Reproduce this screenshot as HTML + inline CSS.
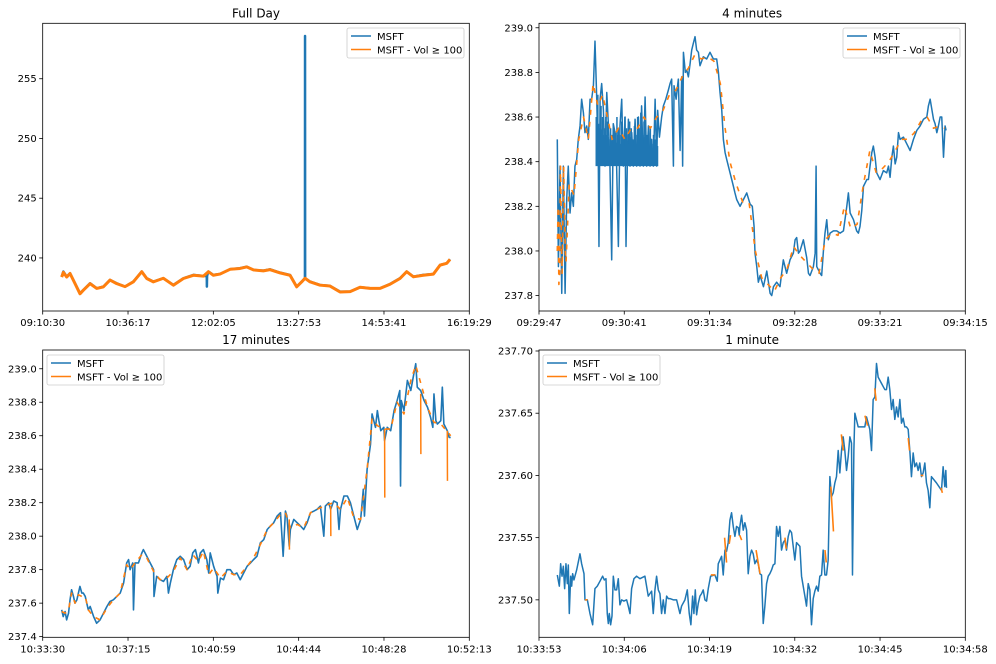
<!DOCTYPE html>
<html><head><meta charset="utf-8"><style>
html,body{margin:0;padding:0;background:#fff;}
svg{display:block;font-family:"DejaVu Sans","Liberation Sans",sans-serif;}
</style></head><body>
<svg id="fig" width="996" height="664" viewBox="0 0 996 664"></svg>
<script>
// ---------- Panel 1: Full Day (minutes since 09:10:30) ----------
const p1T=[19.1,20.8,24.1,27.5,32.5,37.5,40.9,47.6,54.3,61.0,67.7,74.4,82.8,91.2,99.6,104.6,111.3,121.3,131.4,141.5,151.5,161.6,165,165.1,165.3,166.6,171.6,178.3,188.4,198.4,205.1,211.9,221.9,228.6,238.7,248.7,255.4,260.5,263.7,263.8,263.9,268.8,278.9,288.9,299.0,309.1,319.1,329.2,339.2,349.3,359.3,366.0,372.8,382.8,392.9,399.6,406.3,409.6];
const p1Blue=[238.44,238.86,238.44,238.72,237.88,237.04,237.32,237.88,237.46,237.60,238.16,237.88,237.60,238.02,238.86,238.30,238.02,238.30,237.74,238.30,238.58,238.49,238.5,237.6,238.5,238.86,238.58,238.66,239.05,239.14,239.27,239.0,238.94,239.05,238.77,238.58,237.60,238.02,238.3,258.58,238.3,238.02,237.74,237.66,237.18,237.18,237.55,237.46,237.46,237.82,238.30,238.86,238.44,238.58,238.66,239.41,239.55,239.89];
const p1OrangeT=[19.1,20.8,24.1,27.5,32.5,37.5,40.9,47.6,54.3,61.0,67.7,74.4,82.8,91.2,99.6,104.6,111.3,121.3,131.4,141.5,151.5,161.6,166.6,171.6,178.3,188.4,198.4,205.1,211.9,221.9,228.6,238.7,248.7,255.4,260.5,263.8,268.8,278.9,288.9,299.0,309.1,319.1,329.2,339.2,349.3,359.3,366.0,372.8,382.8,392.9,399.6,406.3,409.6];
const p1Orange=[238.40,238.80,238.40,238.70,237.85,237.00,237.30,237.85,237.45,237.58,238.15,237.85,237.60,238.00,238.85,238.28,238.00,238.30,237.72,238.28,238.55,238.48,238.85,238.55,238.65,239.05,239.12,239.25,239.0,238.92,239.02,238.75,238.55,237.58,238.0,238.3,238.0,237.72,237.65,237.15,237.18,237.55,237.45,237.45,237.8,238.28,238.85,238.42,238.55,238.65,239.4,239.55,239.88];
const p1XTicks=["09:10:30","10:36:17","12:02:05","13:27:53","14:53:41","16:19:29"];
const p1YTicks=[240,245,250,255];

// ---------- Panel 2: 4 minutes (seconds since 09:29:47) ----------
const p2T=[11.5,12.2,13.2,14.3,15.3,16.4,17.4,18.4,19.5,20.5,21.6,22.6,23.7,24.7,25.8,26.8,27.9,28.9,30.0,31.0,32.1,33.1,34.2,35.2,36.3,37.3,37.7,38.4,39.4,40.5,41.5,42.6,43.6,44.6,45.7,46.7,47.8,48.8,49.9,50.9,52.0,53.0,54.1,54.7,55.5,56.2,57.2,58.3,59.3,60.4,61.4,62.5,63.5,64.5,65.6,66.7,67.7,68.8,69.8,70.8,71.9,73.0,74.0,74.6,75.7,77.1,78.2,79.7,81.3,82.4,83.4,84.5,84.9,86.2,87.6,88.7,89.7,90.3,90.8,92.0,92.9,93.9,95.0,96.0,97.0,98.1,99.1,100.2,101.2,103.3,105.4,107.5,109.6,111.7,112.8,113.8,114.9,115.9,117.0,118.0,120.1,122.2,123.2,124.3,126.4,128.5,130.6,132.7,134.1,135.2,135.8,136.9,137.9,139.0,141.1,143.2,145.3,146.3,147.4,149.4,151.5,153.6,155.7,157.8,159.9,161.0,162.0,163.1,164.1,166.2,168.3,169.4,170.4,172.5,173.6,174.2,174.6,176.7,177.7,178.8,179.8,180.9,181.9,183.0,185.1,187.2,189.3,191.4,193.5,194.5,195.6,197.7,199.7,200.8,201.8,202.9,204.0,206.1,207.1,208.1,209.2,210.2,211.3,212.3,214.4,216.5,218.6,219.7,220.7,221.8,222.8,223.9,224.9,226.0,227.0,229.1,231.2,233.3,235.4,237.5,239.6,241.7,243.8,244.8,245.9,248.0,249.0,250.1,251.1,252.2,253.2,254.3,255.3,255.9];
const p2Blue=[238.50,237.93,238.38,237.81,238.38,237.81,238.23,238.38,238.17,238.26,238.20,238.38,238.41,238.50,238.56,238.68,238.62,238.53,238.56,238.50,238.68,238.68,238.74,238.94,238.68,238.38,238.02,238.68,238.75,238.63,238.38,238.71,238.57,238.38,237.96,238.57,238.53,238.38,238.02,238.56,238.68,238.38,238.60,238.02,238.38,238.59,238.38,238.53,238.38,238.59,238.38,238.60,238.38,238.65,238.38,238.69,238.38,238.56,238.38,238.50,238.38,238.68,238.38,238.63,238.51,238.60,238.65,238.68,238.72,238.75,238.77,238.38,238.74,238.68,238.77,238.45,238.78,238.38,238.89,238.80,238.81,238.78,238.84,238.90,238.93,238.96,238.90,238.89,238.83,238.87,238.86,238.89,238.86,238.86,238.80,238.71,238.63,238.50,238.44,238.41,238.35,238.29,238.26,238.23,238.20,238.23,238.26,238.21,238.20,238.11,237.99,237.93,237.86,237.89,237.84,237.91,237.81,237.80,237.84,237.86,237.84,237.96,237.90,237.96,237.99,238.05,238.06,237.99,238.00,238.05,237.97,237.90,237.89,237.93,237.99,238.38,237.93,237.90,237.89,238.00,238.08,238.14,238.05,238.08,238.09,238.09,238.08,238.09,238.20,238.26,238.17,238.14,238.09,238.08,238.11,238.18,238.29,238.32,238.32,238.38,238.44,238.47,238.42,238.35,238.32,238.36,238.35,238.38,238.33,238.42,238.47,238.39,238.42,238.53,238.50,238.51,238.48,238.45,238.50,238.54,238.56,238.59,238.60,238.65,238.68,238.59,238.57,238.53,238.56,238.60,238.60,238.42,238.56,238.54,238.59];
// dense bid/ask flicker band (vertical bars) between 09:30:23 and 09:30:59
const p2BandT=[36,37,38,39,40,41,42,43,44,45,46,47,48,49,50,51,52,53,54,55,56,57,58,59,60,61,62,63,64,65,66,67,68,69,70,71,72,73,74];
const p2BandHi=[238.6,238.7,238.55,238.65,238.6,238.55,238.6,238.58,238.5,238.55,238.52,238.56,238.53,238.6,238.55,238.52,238.58,238.5,238.6,238.55,238.52,238.58,238.55,238.5,238.56,238.52,238.6,238.55,238.62,238.52,238.58,238.55,238.52,238.5,238.55,238.48,238.52,238.5,238.5];
const p2BandLo=[238.38,238.38,238.38,238.38,238.38,238.38,238.38,238.38,238.38,238.38,238.38,238.38,238.38,238.38,238.38,238.38,238.38,238.38,238.38,238.38,238.38,238.38,238.38,238.38,238.38,238.38,238.38,238.38,238.38,238.38,238.38,238.38,238.38,238.38,238.38,238.38,238.38,238.38,238.38];
const p2OrangeT=[11.5,12,12.5,13,13.5,14.5,15.5,16.5,17,19,22,25,28,31,34,37,40,43,46,50,54,58,62,66,70,74,78,82,86,90,94,98,102,106,110,114,117,120,124,128,132,136,140,144,148,152,156,160,164,168,172,176,180,184,188,192,196,200,204,208,212,216,220,224,228,232,236,240,244,248,252,255];
const p2Orange=[238.0,238.2,237.85,237.9,238.38,237.9,238.38,238.0,237.95,238.3,238.25,238.5,238.6,238.5,238.75,238.65,238.7,238.6,238.5,238.55,238.5,238.55,238.55,238.6,238.55,238.6,238.63,238.7,238.72,238.78,238.82,238.88,238.86,238.87,238.85,238.75,238.55,238.4,238.3,238.22,238.22,238.0,237.88,237.85,237.82,237.88,237.92,238.02,237.98,237.95,237.92,237.9,238.05,238.08,238.07,238.2,238.1,238.12,238.3,238.45,238.35,238.37,238.4,238.45,238.5,238.5,238.53,238.58,238.6,238.55,238.56,238.55];
const p2XTicks=["09:29:47","09:30:41","09:31:34","09:32:28","09:33:21","09:34:15"];
const p2YTicks=[237.8,238.0,238.2,238.4,238.6,238.8,239.0];

// ---------- Panel 3: 17 minutes (seconds since 10:33:30) ----------
const p3T=[50,54,59,63,68,72,76,81,85,90,94,98,103,107,112,116,120,125,134,142,151,160,169,177,186,195,204,213,221,226,230,237,239,243,252,261,265,274,283,292,293,300,309,318,327,331,336,344,353,362,371,380,388,395,402,410,415,423,432,437,441,450,459,461,468,476,485,494,503,511,520,529,538,547,555,564,573,582,591,599,608,617,626,633,639,643,649,652,661,670,679,687,696,705,714,722,731,740,744,753,758,766,775,780,784,793,802,810,819,828,837,844,847,854,863,867,876,881,885,890,898,900,907,916,925,933,940,942,944,951,960,969,977,982,986,995,1004,1013,1021,1027,1030,1035,1039,1048,1052,1056,1065,1070,1074];
const p3Blue=[237.56,237.52,237.55,237.50,237.54,237.62,237.68,237.64,237.60,237.62,237.66,237.70,237.66,237.66,237.64,237.60,237.56,237.58,237.52,237.48,237.50,237.54,237.58,237.61,237.62,237.64,237.66,237.72,237.84,237.86,237.80,237.84,237.56,237.84,237.84,237.90,237.92,237.88,237.84,237.80,237.64,237.76,237.74,237.73,237.76,237.66,237.72,237.80,237.86,237.88,237.86,237.80,237.82,237.90,237.92,237.84,237.90,237.92,237.86,237.78,237.90,237.82,237.76,237.66,237.75,237.74,237.80,237.80,237.77,237.78,237.74,237.78,237.82,237.84,237.86,237.88,237.96,237.98,238.04,238.06,238.08,238.12,238.14,237.88,238.15,238.12,237.94,238.04,238.10,238.08,238.06,238.04,238.08,238.14,238.15,238.16,238.18,238.00,238.18,238.20,238.16,238.21,238.20,238.04,238.16,238.24,238.24,238.20,238.12,238.04,238.10,238.28,238.12,238.40,238.55,238.73,238.65,238.75,238.69,238.63,238.65,238.57,238.65,238.63,238.75,238.81,238.87,238.30,238.81,238.75,238.93,238.87,238.97,239.03,238.89,238.87,238.81,238.77,238.71,238.65,238.85,238.69,238.67,238.69,238.89,238.67,238.63,238.59,238.59];
const p3OrangeT=[50,59,68,76,85,94,103,112,120,134,151,169,186,204,221,230,243,261,274,292,309,327,344,362,380,395,410,423,437,450,468,485,503,520,538,555,573,591,608,626,639,652,670,687,705,722,740,766,784,802,819,837,854,867,881,898,916,933,951,969,982,1013,1030,1048,1074];
const p3Orange=[237.55,237.54,237.56,237.66,237.60,237.65,237.64,237.64,237.56,237.52,237.50,237.57,237.62,237.66,237.83,237.80,237.84,237.89,237.87,237.79,237.74,237.75,237.79,237.87,237.80,237.89,237.85,237.91,237.77,237.81,237.75,237.79,237.77,237.77,237.82,237.87,237.95,238.04,238.08,238.13,238.14,238.05,238.07,238.05,238.14,238.16,238.18,238.20,238.16,238.23,238.11,238.10,238.40,238.70,238.66,238.64,238.64,238.80,238.73,238.93,239.02,238.77,238.68,238.67,238.60];
// orange downward spikes (solid)
const p3SpikeT=[649,649.5,null,758,758.5,null,900,900.5,null,995,995.5,null,1065,1065.5];
const p3Spike=[238.10,237.92,null,238.18,238.00,null,238.64,238.23,null,238.85,238.49,null,238.63,238.33];
const p3XTicks=["10:33:30","10:37:15","10:40:59","10:44:44","10:48:28","10:52:13"];
const p3YTicks=[237.4,237.6,237.8,238.0,238.2,238.4,238.6,238.8,239.0];

// ---------- Panel 4: 1 minute (seconds since 10:33:53) ----------
const p4T=[2.79,3.10,3.30,3.51,3.71,3.91,4.11,4.32,4.47,4.62,4.83,4.98,5.13,5.33,5.74,6.25,6.50,6.86,7.01,7.37,7.77,8.18,8.53,8.89,9.30,9.70,9.96,10.21,10.41,10.57,10.72,10.92,11.13,11.33,11.58,11.84,12.09,12.34,12.60,12.95,13.36,13.61,13.87,14.12,14.48,14.88,15.39,16.15,16.66,17.17,17.42,17.68,17.93,18.19,18.44,18.69,18.95,19.20,19.46,19.71,19.96,20.47,20.98,21.49,21.74,22.25,22.61,22.91,23.16,23.42,23.62,23.83,24.03,24.28,24.54,24.79,25.04,25.30,25.55,25.81,26.16,26.82,27.18,27.33,27.84,28.09,28.35,28.60,28.85,29.11,29.36,29.62,29.87,30.12,30.38,30.53,30.63,30.89,31.14,31.39,31.65,31.90,32.16,32.41,32.66,32.92,33.17,33.43,33.68,33.93,34.19,34.44,34.70,34.95,35.20,35.46,35.71,35.97,36.22,36.47,36.73,36.98,37.24,37.49,37.74,38.00,38.25,38.51,38.76,39.01,39.27,39.78,40.03,40.54,40.79,41.05,41.30,41.55,41.81,42.06,42.32,42.57,42.82,43.08,43.33,43.59,43.84,44.09,44.35,44.60,44.86,45.11,45.36,45.62,45.87,46.13,46.38,46.63,46.89,47.14,47.40,47.65,47.80,48.01,48.16,48.67,49.17,49.68,49.94,50.19,50.44,50.70,50.95,51.21,51.46,51.71,52.22,52.73,52.98,53.24,53.49,53.75,54.00,54.25,54.51,54.76,55.02,55.27,55.52,55.78,56.03,56.29,56.54,56.79,57.05,57.30,57.56,57.81,58.06,58.32,58.57,58.83,59.08,59.33,59.59,59.84,60.60,61.37,61.62,61.87,62.03,62.13];
const p4Blue=[237.520,237.511,237.529,237.519,237.527,237.509,237.529,237.513,237.528,237.489,237.519,237.511,237.521,237.516,237.524,237.537,237.529,237.521,237.500,237.500,237.489,237.480,237.509,237.511,237.515,237.519,237.516,237.517,237.489,237.481,237.489,237.480,237.487,237.519,237.508,237.508,237.517,237.496,237.500,237.499,237.500,237.495,237.489,237.509,237.517,237.519,237.517,237.519,237.503,237.507,237.489,237.508,237.519,237.508,237.505,237.489,237.500,237.489,237.503,237.501,237.501,237.500,237.500,237.489,237.495,237.500,237.508,237.489,237.480,237.503,237.489,237.508,237.488,237.497,237.503,237.505,237.508,237.500,237.499,237.509,237.519,237.520,237.515,237.529,237.535,237.520,237.540,237.539,237.546,237.564,237.570,237.559,237.551,237.559,237.558,237.552,237.559,237.568,237.556,237.562,237.556,237.521,237.535,237.540,237.537,237.529,237.532,237.529,237.521,237.520,237.481,237.495,237.513,237.519,237.521,237.524,237.528,237.529,237.559,237.551,237.559,237.540,237.546,237.548,237.540,237.551,237.556,237.554,237.543,237.532,237.546,237.543,237.519,237.503,237.495,237.513,237.508,237.480,237.501,237.507,237.511,237.507,237.519,237.520,237.540,237.520,237.520,237.532,237.599,237.583,237.586,237.594,237.599,237.620,237.602,237.620,237.631,237.620,237.604,237.615,237.631,237.626,237.520,237.620,237.650,237.639,237.639,237.639,237.647,237.642,237.637,237.620,237.661,237.663,237.690,237.679,237.674,237.669,237.669,237.679,237.669,237.653,237.661,237.645,237.655,237.647,237.661,237.642,237.646,237.639,237.639,237.637,237.620,237.599,237.618,237.607,237.610,237.604,237.610,237.599,237.602,237.610,237.594,237.588,237.574,237.599,237.594,237.588,237.607,237.591,237.604,237.590];
const p4OrangeT=[7.0,7.4,null,26.2,26.9,null,28.3,28.6,null,29.0,29.2,null,30.6,30.9,null,33.1,33.7,null,37.5,37.7,null,43.6,43.8,null,44.5,44.9,null,46.1,46.4,null,49.7,50.1,null,51.2,51.4,null,56.3,56.5,null,58.2,58.6,null,61.3,61.5];
const p4Orange=[237.500,237.500,null,237.520,237.520,null,237.550,237.530,null,237.545,237.552,null,237.552,237.548,null,237.540,237.521,null,237.550,237.541,null,237.540,237.530,null,237.591,237.555,null,237.633,237.620,null,237.648,237.640,null,237.670,237.660,null,237.630,237.620,null,237.600,237.600,null,237.590,237.586];
const p4XTicks=["10:33:53","10:34:06","10:34:19","10:34:32","10:34:45","10:34:58"];
const p4YTicks=[237.50,237.55,237.60,237.65,237.70];

const NS="http://www.w3.org/2000/svg";
const svg=document.getElementById('fig');
const BLUE="#1f77b4", ORANGE="#ff7f0e";
function el(tag,attrs,parent){const e=document.createElementNS(NS,tag);for(const k in attrs)e.setAttribute(k,attrs[k]);(parent||svg).appendChild(e);return e;}

function panel(id,title,box,xDom,yDom,xTicks,yTicks,yDec,series,legPos){
  const g=el('g',{});
  
  
  const X=v=>box.x0+(v-xDom[0])/(xDom[1]-xDom[0])*(box.x1-box.x0);
  const Y=v=>box.y1-(v-yDom[0])/(yDom[1]-yDom[0])*(box.y1-box.y0);
  const cp=id+'-clip';
  const cl=el('clipPath',{id:cp},g);el('rect',{x:box.x0,y:box.y0,width:box.x1-box.x0,height:box.y1-box.y0},cl);
  series.forEach(s=>{
    let d='',pen=false;
    if(s.band){
      for(let i=0;i<s.T.length;i++){
        const x=X(s.T[i]).toFixed(2);
        d+='M'+x+' '+Y(s.lo[i]).toFixed(2)+'L'+x+' '+Y(s.hi[i]).toFixed(2);
        const x2=X(s.T[i]+0.5).toFixed(2);
        d+='M'+x2+' '+Y(s.lo[i]).toFixed(2)+'L'+x2+' '+Y((s.hi[i]+s.lo[i])/2+0.03).toFixed(2);
      }
    } else {
      for(let i=0;i<s.T.length;i++){
        if(s.T[i]===null||s.V[i]===null){pen=false;continue;}
        d+=(pen?'L':'M')+X(s.T[i]).toFixed(2)+' '+Y(s.V[i]).toFixed(2);pen=true;
      }
    }
    const p=el('path',{d:d,fill:'none',stroke:s.color,'stroke-width':s.w,'stroke-linejoin':'round','clip-path':'url(#'+cp+')'},g);
    if(s.dash)p.setAttribute('stroke-dasharray',s.dash);
    
    
  });
  el('rect',{x:box.x0,y:box.y0,width:box.x1-box.x0,height:box.y1-box.y0,fill:'none',stroke:'#000','stroke-width':0.8},g);
  const t=el('text',{x:(box.x0+box.x1)/2,y:box.y0-6,'text-anchor':'middle','font-size':12,fill:'#000'},g);t.textContent=title;
  
  
  xTicks.forEach((lab,i)=>{
    const x=box.x0+i*(box.x1-box.x0)/(xTicks.length-1);
    el('line',{x1:x,x2:x,y1:box.y1,y2:box.y1+3.5,stroke:'#000','stroke-width':0.8},g);
    const tx=el('text',{x:x,y:box.y1+15,'text-anchor':'middle','font-size':10,fill:'#000'},g);tx.textContent=lab;
    
    
  });
  yTicks.forEach(v=>{
    const y=Y(v);
    el('line',{x1:box.x0-3.5,x2:box.x0,y1:y,y2:y,stroke:'#000','stroke-width':0.8},g);
    const ty=el('text',{x:box.x0-6,y:y+3.5,'text-anchor':'end','font-size':10,fill:'#000'},g);ty.textContent=v.toFixed(yDec);
    
    
  });
  const lg=el('g',{},g);
  
  
  el('rect',{x:legPos[0],y:legPos[1],width:117,height:30,rx:2,fill:'#fff','fill-opacity':0.8,stroke:'#ccc','stroke-width':0.8},lg);
  [['MSFT',BLUE],['MSFT - Vol  \u2265  100',ORANGE]].forEach((e,i)=>{
    const yy=legPos[1]+8+i*13.5;
    el('line',{x1:legPos[0]+4,x2:legPos[0]+24,y1:yy,y2:yy,stroke:e[1],'stroke-width':1.5},lg);
    const lt=el('text',{x:legPos[0]+30,y:yy+4,'font-size':10,fill:'#000','xml:space':'preserve'},lg);lt.textContent=e[0];
    
    
  });
}
panel('full-day-panel','Full Day',{x0:42.7,x1:469.3,y0:23.3,y1:311},[0,428.98],[235.56,259.64],p1XTicks,p1YTicks,0,[
  {T:p1T,V:p1Blue,color:BLUE,w:2.5,name:'msft-line'},
  {T:p1OrangeT,V:p1Orange,color:ORANGE,w:3,name:'msft-vol-line'}],[347,28]);
panel('four-minute-panel','4 minutes',{x0:539,x1:965.3,y0:23.3,y1:311},[0,268],[237.731,239.020],p2XTicks,p2YTicks,1,[
  {T:p2T,V:p2Blue,color:BLUE,w:1.5,name:'msft-line'},
  {band:true,T:p2BandT,hi:p2BandHi,lo:p2BandLo,color:BLUE,w:1.5,name:'msft-flicker-band'},
  {T:p2OrangeT,V:p2Orange,color:ORANGE,w:1.6,dash:'5 7',name:'msft-vol-line'}],[843,28]);
panel('seventeen-minute-panel','17 minutes',{x0:42.7,x1:469.3,y0:350,y1:637.3},[0,1123],[237.396,239.112],p3XTicks,p3YTicks,1,[
  {T:p3T,V:p3Blue,color:BLUE,w:1.6,name:'msft-line'},
  {T:p3OrangeT,V:p3Orange,color:ORANGE,w:1.6,dash:'5 6',name:'msft-vol-line'},
  {T:p3SpikeT,V:p3Spike,color:ORANGE,w:1.5,name:'msft-vol-spikes'}],[47,355]);
panel('one-minute-panel','1 minute',{x0:539,x1:965.3,y0:350,y1:637.3},[0,65],[237.4699,237.7008],p4XTicks,p4YTicks,2,[
  {T:p4T,V:p4Blue,color:BLUE,w:1.5,name:'msft-line'},
  {T:p4OrangeT,V:p4Orange,color:ORANGE,w:1.6,name:'msft-vol-line'}],[543,355]);
</script>
</body></html>
